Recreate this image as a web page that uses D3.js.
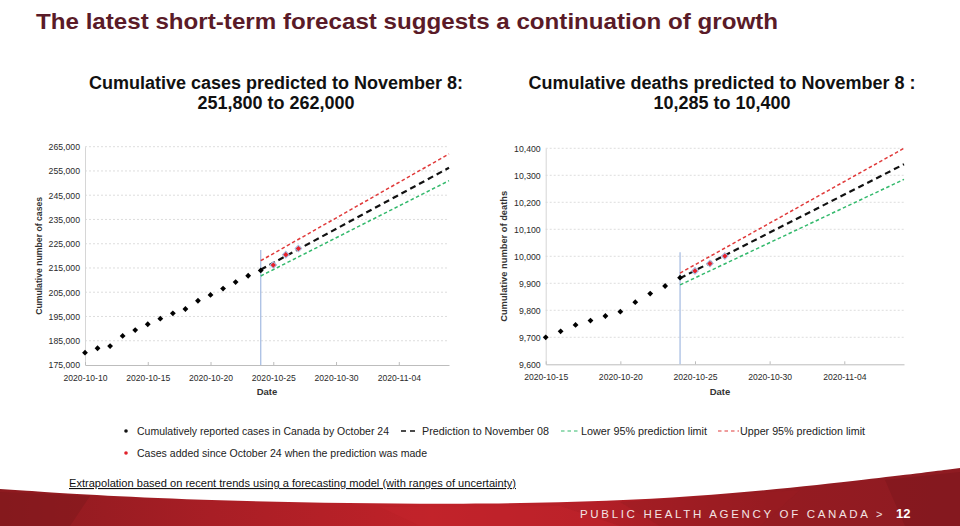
<!DOCTYPE html>
<html><head><meta charset="utf-8">
<script src="https://cdn.jsdelivr.net/npm/d3@7"></script>
<style>html,body{margin:0;padding:0;background:#fff;overflow:hidden}svg{display:block}</style>
</head><body>
<script>
// ---------- DATA ----------
const casesDates = ["2020-10-10","2020-10-11","2020-10-12","2020-10-13","2020-10-14","2020-10-15","2020-10-16","2020-10-17","2020-10-18","2020-10-19","2020-10-20","2020-10-21","2020-10-22","2020-10-23","2020-10-24"];
const casesReported = [180100,181900,182800,187000,189400,191800,194100,196300,198100,201500,203900,206500,209200,211800,214000];
const addedDates = ["2020-10-25","2020-10-26","2020-10-27"];
const casesAdded = [216200,220500,223000];
const forecastDates = ["2020-10-24","2020-11-08"];
const casesPrediction = [214300,256300];
const casesLower = [211700,251000];
const casesUpper = [218000,262000];
const casesMarkerTop = 222400;
const casesTicks = [175000,185000,195000,205000,215000,225000,235000,245000,255000,265000];
const casesXTicks = ["2020-10-10","2020-10-15","2020-10-20","2020-10-25","2020-10-30","2020-11-04"];

const deathsDates = ["2020-10-15","2020-10-16","2020-10-17","2020-10-18","2020-10-19","2020-10-20","2020-10-21","2020-10-22","2020-10-23","2020-10-24"];
const deathsReported = [9700,9722,9746,9762,9779,9795,9830,9862,9890,9921];
const deathsAdded = [9946,9973,10001];
const deathsPrediction = [9919,10341];
const deathsLower = [9894,10285];
const deathsUpper = [9938,10400];
const deathsMarkerTop = 10015;
const deathsTicks = [9600,9700,9800,9900,10000,10100,10200,10300,10400];
const deathsXTicks = ["2020-10-15","2020-10-20","2020-10-25","2020-10-30","2020-11-04"];

const titleText = "The latest short-term forecast suggests a continuation of growth";
const subCases = ["Cumulative cases predicted to November 8:", "251,800 to 262,000"];
const subDeaths = ["Cumulative deaths predicted to November 8 :", "10,285 to 10,400"];
const legendLabels = ["Cumulatively reported cases in Canada by October 24","Prediction to November 08","Lower 95% prediction limit","Upper 95% prediction limit","Cases added since October 24 when the prediction was made"];
const noteText = "Extrapolation based on recent trends using a forecasting model (with ranges of uncertainty)";
const footerText = "PUBLIC HEALTH AGENCY OF CANADA";
const pageNumber = "12";

// ---------- SETUP ----------
const FONT = "'Liberation Sans', Arial, sans-serif";
const parse = d3.utcParse("%Y-%m-%d");
const RED = "#e03a3a", GREEN = "#33b96c", BLUE = "#a9bfe3";
const svg = d3.select("body").append("svg").attr("width",960).attr("height",526);

// footer background
const defs = svg.append("defs");
const grad = defs.append("linearGradient").attr("id","fg").attr("x1","0").attr("x2","1").attr("y1","0").attr("y2","0");
[[0,"#8c1a1f"],[0.22,"#a81e25"],[0.45,"#c02229"],[0.62,"#b31f27"],[0.8,"#951b21"],[1,"#8e1b22"]].forEach(s=>grad.append("stop").attr("offset",s[0]).attr("stop-color",s[1]));
const edge = d3.line().curve(d3.curveBasis)([[0,489],[160,500],[480,506],[700,498],[880,478],[960,468]]);
svg.append("path").attr("d", edge + "L960,526L0,526Z").attr("fill","url(#fg)");
const facets = [
  [[0,492],[90,496],[70,526],[0,526]],
  [[380,507],[560,506],[620,526],[420,526]],
  [[620,502],[800,490],[760,526],[660,526]],
  [[885,480],[960,472],[960,526],[905,526]]
];
svg.selectAll("path.facet").data(facets).join("path").attr("class","facet")
  .attr("d",d=>d3.line()(d)+"Z").attr("fill",(d,i)=>["#7e171c","#c4242c","#9a1c22","#7c161b"][i]).attr("opacity",0.5);

// title
svg.append("text").attr("x",36).attr("y",29).attr("font-family",FONT).attr("font-weight","bold")
  .attr("font-size",22).attr("fill","#5a1b28").attr("textLength",742).attr("lengthAdjust","spacingAndGlyphs").text(titleText);

function subtitle(lines, cx){
  lines.forEach((t,i)=>svg.append("text").attr("x",cx).attr("y",89+i*19.5).attr("text-anchor","middle")
    .attr("font-family",FONT).attr("font-weight","bold").attr("font-size",18).attr("fill","#111").text(t));
}
subtitle(subCases, 276);
subtitle(subDeaths, 722);

const diamond = d3.symbol().type(d3.symbolSquare).size(17)();
const diamondBig = d3.symbol().type(d3.symbolSquare).size(22)();

function panel(o){
  const x = d3.scaleUtc().domain([parse(o.start), parse(o.end)]).range([o.left, o.right]);
  const y = d3.scaleLinear().domain([o.ticks[0], o.ticks[o.ticks.length-1]]).range([o.bottom, o.top]);
  const g = svg.append("g");
  g.selectAll("line.grid").data(o.ticks.slice(1)).join("line").attr("class","grid")
    .attr("x1",o.left).attr("x2",o.right).attr("y1",d=>y(d)).attr("y2",d=>y(d))
    .attr("stroke","#d4d4d4").attr("stroke-width",0.8).attr("stroke-dasharray","2,2");
  const ya = g.append("g").attr("transform",`translate(${o.left},0)`)
    .call(d3.axisLeft(y).tickValues(o.ticks).tickFormat(d3.format(",")).tickSize(0).tickPadding(5));
  ya.select(".domain").attr("stroke","#d6d6d6");
  ya.selectAll("text").attr("font-family",FONT).attr("font-size",8.7).attr("fill","#2a2a2a");
  const xa = g.append("g").attr("transform",`translate(0,${o.bottom})`)
    .call(d3.axisBottom(x).tickValues(o.xticks.map(parse)).tickFormat(d3.utcFormat("%Y-%m-%d")).tickSizeInner(-3).tickSizeOuter(0).tickPadding(10));
  xa.select(".domain").attr("stroke","#bdbdbd");
  xa.selectAll("line").attr("stroke","#bdbdbd");
  xa.selectAll("text").attr("font-family",FONT).attr("font-size",8.6).attr("fill","#2a2a2a");
  g.append("text").attr("x",o.dateX).attr("y",395).attr("text-anchor","middle").attr("font-family",FONT)
    .attr("font-weight","bold").attr("font-size",9.5).attr("fill","#333").text("Date");
  g.append("text").attr("transform",`translate(${o.titleX},${(o.top+o.bottom)/2}) rotate(-90)`).attr("text-anchor","middle")
    .attr("font-family",FONT).attr("font-weight","bold").attr("font-size",8.8).attr("fill","#333")
    .attr("textLength",o.titleLen).attr("lengthAdjust","spacingAndGlyphs").text(o.yTitle);
  // forecast origin marker
  const fx = x(parse(forecastDates[0]));
  g.append("line").attr("x1",fx).attr("x2",fx).attr("y1",y(o.markerTop)).attr("y2",o.bottom)
    .attr("stroke",BLUE).attr("stroke-width",1.3);
  const line = d3.line().x((d,i)=>x(parse(forecastDates[i]))).y(d=>y(d));
  g.append("path").attr("d",line(o.upper)).attr("fill","none").attr("stroke",RED).attr("stroke-width",1.5).attr("stroke-dasharray","3.5,2.5");
  g.append("path").attr("d",line(o.lower)).attr("fill","none").attr("stroke",GREEN).attr("stroke-width",1.5).attr("stroke-dasharray","3.5,2.5");
  g.append("path").attr("d",line(o.pred)).attr("fill","none").attr("stroke","#111").attr("stroke-width",2.2).attr("stroke-dasharray","6,4");
  g.selectAll("path.pt").data(o.reported).join("path").attr("class","pt")
    .attr("transform",(d,i)=>`translate(${x(parse(o.dates[i]))},${y(d)}) rotate(45)`).attr("d",diamond).attr("fill","#000");
  g.selectAll("path.add").data(o.added).join("path").attr("class","add")
    .attr("transform",(d,i)=>`translate(${x(parse(addedDates[i]))},${y(d)}) rotate(45)`).attr("d",diamondBig)
    .attr("fill","#e8202a").attr("stroke",BLUE).attr("stroke-width",1);
}

panel({start:"2020-10-10",end:"2020-11-08",left:85,right:449,top:146.7,bottom:365,ticks:casesTicks,xticks:casesXTicks,
  dates:casesDates,reported:casesReported,added:casesAdded,pred:casesPrediction,lower:casesLower,upper:casesUpper,
  markerTop:casesMarkerTop,dateX:267,titleX:42,titleLen:118,yTitle:"Cumulative number of cases"});
panel({start:"2020-10-15",end:"2020-11-08",left:545.7,right:904,top:148.3,bottom:364.3,ticks:deathsTicks,xticks:deathsXTicks,
  dates:deathsDates,reported:deathsReported,added:deathsAdded,pred:deathsPrediction,lower:deathsLower,upper:deathsUpper,
  markerTop:deathsMarkerTop,dateX:720,titleX:507,titleLen:131,yTitle:"Cumulative number of deaths"});

// legend
const lg = svg.append("g").attr("font-family",FONT).attr("font-size",10.5).attr("fill","#222");
function ltext(t,x,y,len){ lg.append("text").attr("x",x).attr("y",y).attr("textLength",len).attr("lengthAdjust","spacingAndGlyphs").text(t); }
lg.append("circle").attr("cx",126).attr("cy",431).attr("r",1.8).attr("fill","#111");
ltext(legendLabels[0],137,434.5,252);
lg.append("line").attr("x1",401).attr("x2",415).attr("y1",431).attr("y2",431).attr("stroke","#111").attr("stroke-width",1.6).attr("stroke-dasharray","5,4");
ltext(legendLabels[1],422,434.5,127);
lg.append("line").attr("x1",561).attr("x2",580).attr("y1",431).attr("y2",431).attr("stroke",GREEN).attr("stroke-width",1.2).attr("stroke-dasharray","3.5,3");
ltext(legendLabels[2],581,434.5,126);
lg.append("line").attr("x1",718).attr("x2",739).attr("y1",431).attr("y2",431).attr("stroke",RED).attr("stroke-width",1.2).attr("stroke-dasharray","3.5,3");
ltext(legendLabels[3],740,434.5,125);
lg.append("circle").attr("cx",126).attr("cy",453).attr("r",1.8).attr("fill","#e0202a");
ltext(legendLabels[4],137,456.5,290);

// note
svg.append("text").attr("x",69).attr("y",487).attr("font-family",FONT).attr("font-size",11).attr("fill","#111")
  .attr("text-decoration","underline").attr("textLength",447).attr("lengthAdjust","spacingAndGlyphs").text(noteText);

// footer text
svg.append("text").attr("x",580).attr("y",518).attr("font-family",FONT).attr("font-size",11.5).attr("fill","#f3e3e3")
  .attr("textLength",288).attr("lengthAdjust","spacing").text(footerText);
svg.append("text").attr("x",876).attr("y",518).attr("font-family",FONT).attr("font-size",11).attr("fill","#f3e3e3").text(">");
svg.append("text").attr("x",896).attr("y",518).attr("font-family",FONT).attr("font-weight","bold").attr("font-size",13).attr("fill","#fff").text(pageNumber);
</script>
</body></html>
